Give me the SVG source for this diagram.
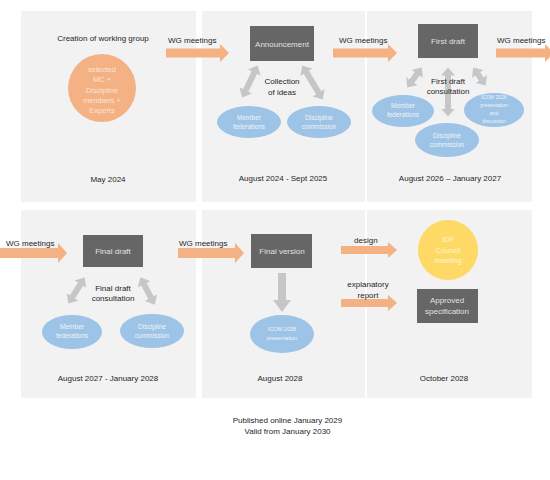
<svg xmlns="http://www.w3.org/2000/svg" width="550" height="480" viewBox="0 0 550 480">
<defs>
<style>
text{font-family:"Liberation Sans",Arial,sans-serif;}
.panel{fill:#f2f2f2;}
.lbl{font-size:8px;fill:#262626;text-anchor:middle;}
.lbls{font-size:8px;fill:#262626;}
.box{fill:#666666;}
.boxt{font-size:8px;fill:#e0e0e0;text-anchor:middle;}
.ell{fill:#9dc3e6;}
.ellt{font-size:6.5px;fill:#eef4fa;text-anchor:middle;}
.ells{font-size:5px;fill:#eef4fa;text-anchor:middle;}
.orange{fill:#f4b183;}
.garrow{stroke:#c6c6c6;stroke-width:6;fill:none;marker-start:url(#gh);marker-end:url(#gh);}
.gfill{fill:#c6c6c6;}
.ct{font-size:7.5px;fill:#fbe5d6;text-anchor:middle;}
.yt{font-size:7.5px;fill:#fff5d6;text-anchor:middle;}
</style>
<marker id="gh" markerUnits="userSpaceOnUse" markerWidth="8" markerHeight="14" refX="0.5" refY="7" orient="auto-start-reverse" viewBox="0 0 8 14">
<path d="M0,0 L8,7 L0,14 Z" fill="#c6c6c6"/>
</marker>
</defs>

<g id="panels">
<rect class="panel" x="21" y="11" width="175" height="191"/>
<rect class="panel" x="202" y="11" width="163" height="191"/>
<rect class="panel" x="367" y="11" width="165" height="191"/>
<rect class="panel" x="21" y="210" width="175" height="188"/>
<rect class="panel" x="202" y="210" width="163" height="188"/>
<rect class="panel" x="367" y="210" width="165" height="188"/>
</g>

<g id="connectors">
<path class="orange" d="M166,48.5 H220 V44 L229,53 L220,62 V57.5 H166 Z"/>
<path class="orange" d="M333,48.5 H388 V44 L397,53 L388,62 V57.5 H333 Z"/>
<path class="orange" d="M496,48.5 H545 V44 L554,53 L545,62 V57.5 H496 Z"/>
<path class="orange" d="M0,248 H58 V243 L67,253 L58,263 V258 H0 Z"/>
<path class="orange" d="M178,248 H235 V243 L244,253 L235,263 V258 H178 Z"/>
<path class="orange" d="M341,246 H388 V242 L397,250 L388,258 V254 H341 Z"/>
<path class="orange" d="M341,299 H388 V295 L397,303 L388,311 V307 H341 Z"/>
<line class="garrow" x1="254.5" y1="72.2" x2="245.5" y2="90.8"/>
<line class="garrow" x1="306.1" y1="71.9" x2="318.9" y2="93.1"/>
<line class="garrow" x1="417.4" y1="73.5" x2="411.6" y2="81.5"/>
<line class="garrow" x1="448" y1="75" x2="448" y2="109"/>
<line class="garrow" x1="477.5" y1="73.6" x2="481.5" y2="79.4"/>
<line class="garrow" x1="80.7" y1="283.8" x2="72.3" y2="297.2"/>
<line class="garrow" x1="143.8" y1="284" x2="151.2" y2="298"/>
<path class="gfill" d="M278,273 H286 V300 H291 L282,312 L273,300 H278 Z"/>
<text class="lbls" x="168" y="43">WG meetings</text>
<text class="lbls" x="339" y="43">WG meetings</text>
<text class="lbls" x="497" y="43">WG meetings</text>
<text class="lbls" x="6" y="246">WG meetings</text>
<text class="lbls" x="179" y="246">WG meetings</text>
<text class="lbls" x="354" y="243">design</text>
<text class="lbl" x="368" y="287">explanatory</text>
<text class="lbl" x="368" y="298">report</text>
<text class="lbl" x="282" y="84">Collection</text>
<text class="lbl" x="282" y="95">of ideas</text>
<text class="lbl" x="448" y="84">First draft</text>
<text class="lbl" x="448" y="94">consultation</text>
<text class="lbl" x="113" y="291">Final draft</text>
<text class="lbl" x="113" y="301">consultation</text>
</g>

<g id="working-group">
<text class="lbl" x="103" y="41">Creation of working group</text>
<circle cx="102" cy="88" r="34" fill="#f4b183"/>
<text class="ct" x="102" y="72">selected</text>
<text class="ct" x="102" y="82">MC +</text>
<text class="ct" x="102" y="92.5">Discipline</text>
<text class="ct" x="102" y="102.5">members +</text>
<text class="ct" x="102" y="113">Experts</text>
<text class="lbl" x="108" y="182">May 2024</text>
</g>

<g id="announcement">
<rect class="box" x="250" y="26" width="64" height="35"/>
<text class="boxt" x="282" y="47">Announcement</text>
<text class="lbl" x="283" y="181">August 2024 - Sept 2025</text>
</g>
<g id="member-federations-1">
<ellipse class="ell" cx="249" cy="122" rx="32" ry="16"/>
<text class="ellt" x="249" y="120">Member</text>
<text class="ellt" x="249" y="129">federations</text>
</g>
<g id="discipline-commission-1">
<ellipse class="ell" cx="319" cy="122" rx="32" ry="16"/>
<text class="ellt" x="319" y="120">Discipline</text>
<text class="ellt" x="319" y="129">commission</text>
</g>

<g id="first-draft">
<rect class="box" x="418" y="24" width="60" height="34"/>
<text class="boxt" x="448" y="44">First draft</text>
<text class="lbl" x="450" y="181">August 2026 – January 2027</text>
</g>
<g id="member-federations-2">
<ellipse class="ell" cx="403" cy="111" rx="31" ry="16"/>
<text class="ellt" x="403" y="108">Member</text>
<text class="ellt" x="403" y="117">federations</text>
</g>
<g id="icom-2026">
<ellipse class="ell" cx="494" cy="110" rx="30" ry="17"/>
<text class="ells" x="494" y="99">ICOM 2026</text>
<text class="ells" x="494" y="107">presentation</text>
<text class="ells" x="494" y="115">and</text>
<text class="ells" x="494" y="123">discussion</text>
</g>
<g id="discipline-commission-2">
<ellipse class="ell" cx="447" cy="140" rx="32" ry="17"/>
<text class="ellt" x="447" y="138">Discipline</text>
<text class="ellt" x="447" y="147">commission</text>
</g>

<g id="final-draft">
<rect class="box" x="83" y="235" width="60" height="32"/>
<text class="boxt" x="113" y="254">Final draft</text>
<text class="lbl" x="108" y="381">August 2027 - January 2028</text>
</g>
<g id="member-federations-3">
<ellipse class="ell" cx="72" cy="332" rx="30" ry="17"/>
<text class="ellt" x="72" y="329">Member</text>
<text class="ellt" x="72" y="338">federations</text>
</g>
<g id="discipline-commission-3">
<ellipse class="ell" cx="152" cy="331" rx="32" ry="17"/>
<text class="ellt" x="152" y="329">Discipline</text>
<text class="ellt" x="152" y="338">commission</text>
</g>

<g id="final-version">
<rect class="box" x="251" y="234" width="61" height="34"/>
<text class="boxt" x="282" y="254">Final version</text>
<text class="lbl" x="280" y="381">August 2028</text>
</g>
<g id="icom-2028">
<ellipse class="ell" cx="282" cy="334" rx="32" ry="19"/>
<text class="ellt" x="282" y="331" style="font-size:5.5px">ICOM 2028</text>
<text class="ellt" x="282" y="340" style="font-size:5.5px">presentation</text>
</g>

<g id="idf-council">
<circle cx="448" cy="250" r="30" fill="#ffd966"/>
<text class="yt" x="448" y="242">IDF</text>
<text class="yt" x="448" y="253">Council</text>
<text class="yt" x="448" y="263">meeting</text>
</g>
<g id="approved-specification">
<rect class="box" x="417" y="289" width="61" height="34"/>
<text class="boxt" x="447" y="303">Approved</text>
<text class="boxt" x="447" y="314">specification</text>
<text class="lbl" x="444" y="381">October 2028</text>
</g>

<g id="footer">
<text class="lbl" x="287.5" y="423">Published online January 2029</text>
<text class="lbl" x="287.5" y="434">Valid from January 2030</text>
</g>
</svg>
